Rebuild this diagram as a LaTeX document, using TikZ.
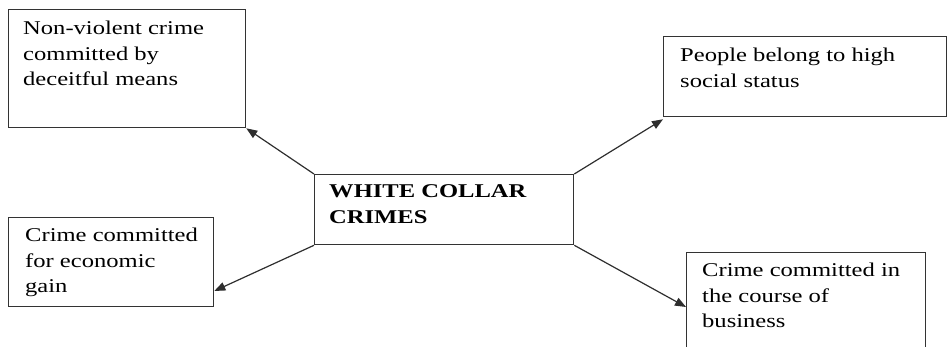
\documentclass[tikz,border=0pt]{standalone}
\usepackage{fontspec}
\setmainfont{Liberation Serif}[FakeStretch=1.26]
\usetikzlibrary{arrows.meta,calc}

% multi-line label whose reference point is the first baseline
\newcommand{\boxlines}[1]{\begin{tabular}[t]{@{}l@{}}#1\end{tabular}}

\begin{document}
\begin{tikzpicture}[x=1pt,y=-1pt,
    frame/.style={draw=black!80,line width=1.3pt,inner sep=0pt,anchor=north west},
    boxtext/.style={anchor=base west,inner sep=0pt,font=\fontsize{19.5}{25.5}\selectfont,text=black},
    link/.style={draw=black!82,line width=1.2pt,-{Triangle[length=11pt,width=8.5pt]}}]
  \useasboundingbox (0,0) rectangle (948,347);
  \clip (0,0) rectangle (948,347);

  % boxes
  \node[frame,minimum width=237pt,minimum height=118pt] (deceit) at (8,9) {};
  \node[frame,minimum width=283pt,minimum height=80pt] (status) at (663,36) {};
  \node[frame,minimum width=205pt,minimum height=89pt] (gain) at (8,217) {};
  \node[frame,minimum width=239pt,minimum height=110pt] (business) at (686,252) {};
  \node[frame,minimum width=259pt,minimum height=70pt] (wcc) at (314,174) {};

  % texts
  \node[boxtext] (deceitT) at (23,35) {\boxlines{Non-violent crime\\committed by\\deceitful means}};
  \node[boxtext] (statusT) at (680,62) {\boxlines{People belong to high\\social status}};
  \node[boxtext] (gainT) at (25,242) {\boxlines{Crime committed\\for economic\\gain}};
  \node[boxtext] (businessT) at (702,277) {\boxlines{Crime committed in\\the course of\\business}};
  \node[boxtext] (wccT) at (329,198) {\boxlines{\bfseries WHITE COLLAR\\\bfseries CRIMES}};

  % arrow end points on the outer boxes
  \coordinate (gainIn) at ($(gain.north east)+(0,74)$);
  \coordinate (businessIn) at ($(business.north west)+(0,55)$);

  % connectors
  \draw[link] (wcc.north west) -- (deceit.south east);
  \draw[link] (wcc.north east) -- ($(status.south west)+(0,2)$);
  \draw[link] (wcc.south west) -- (gainIn);
  \draw[link] (wcc.south east) -- (businessIn);
\end{tikzpicture}
\end{document}
